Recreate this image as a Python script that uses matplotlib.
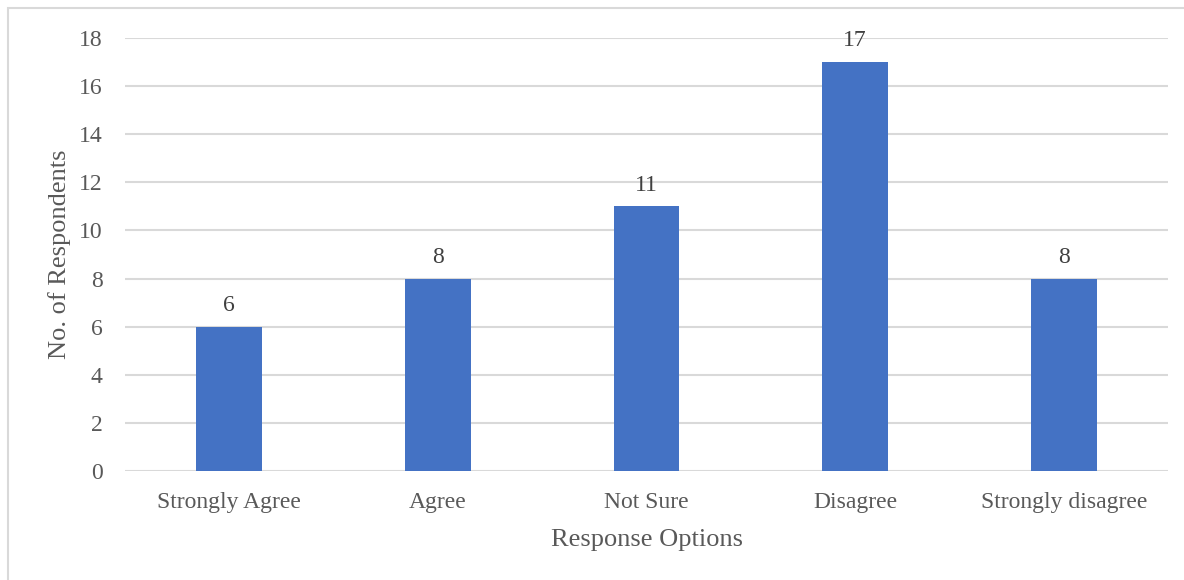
import matplotlib
matplotlib.use("Agg")
import matplotlib.pyplot as plt
from matplotlib.patches import Rectangle

categories = ["Strongly Agree", "Agree", "Not Sure", "Disagree", "Strongly disagree"]
counts = [6, 8, 11, 17, 8]
y_ticks = [0, 2, 4, 6, 8, 10, 12, 14, 16, 18]

plt.rcParams["font.family"] = ["Liberation Serif", "DejaVu Serif"]

figure = plt.figure(figsize=(11.84, 5.8), dpi=100)
axis = figure.add_axes([0.1056, 0.1879, 0.8809, 0.7466])

# chart area border (only left and top visible in the original crop)
figure.patches.append(Rectangle((8 / 1184, -0.1), 1.2, 1.1 - 8 / 580, transform=figure.transFigure,
                                fill=False, edgecolor="#D9D9D9", linewidth=1.5))

positions = list(range(len(categories)))
bars = axis.bar(positions, counts, width=0.315, color="#4472C4", zorder=3)
for rect, value in zip(bars, counts):
    axis.text(rect.get_x() + rect.get_width() / 2, value + 0.45, str(value),
              ha="center", va="bottom", fontsize=17, color="#404040")

axis.set_xlim(-0.5, len(categories) - 0.5)
axis.set_ylim(0, 18)
axis.set_yticks(y_ticks)
axis.set_xticks(positions)
axis.set_xticklabels(categories)
axis.tick_params(axis="both", length=0, labelsize=17, labelcolor="#595959")
axis.tick_params(axis="y", pad=16)
axis.tick_params(axis="x", pad=15)
axis.grid(axis="y", color="#D9D9D9", linewidth=1.5, zorder=0)
for side in axis.spines.values():
    side.set_visible(False)

axis.set_xlabel("Response Options", fontsize=19, color="#595959", va="center")
axis.set_ylabel("No. of Respondents", fontsize=19, color="#595959", va="center")
axis.xaxis.set_label_coords(0.5, -0.159)
axis.yaxis.set_label_coords(-0.063, 0.5)

figure.savefig("out.png", dpi=100)
